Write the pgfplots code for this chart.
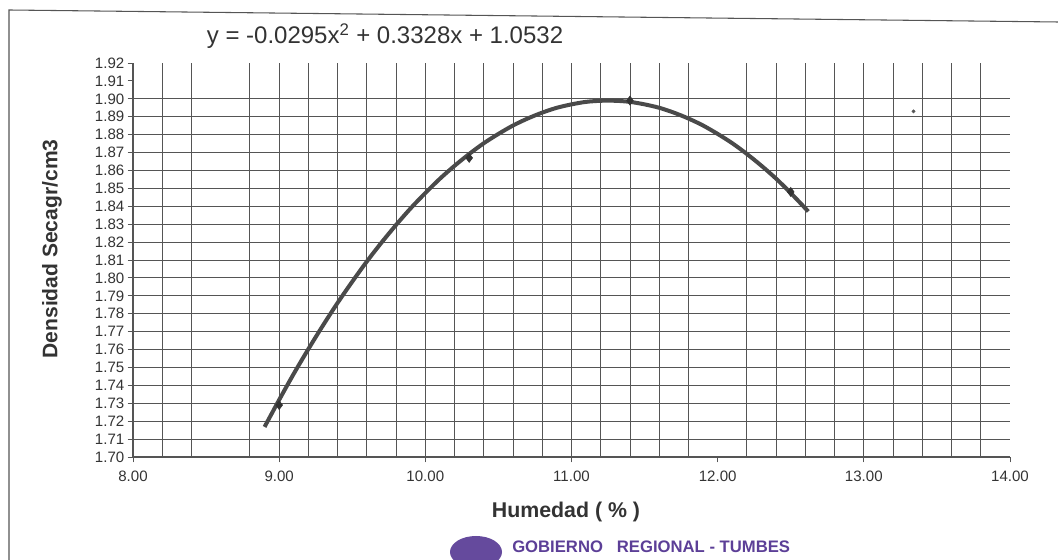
\documentclass[border=0pt]{standalone}
\usepackage{pgfplots}
\pgfplotsset{compat=1.18}
\usepackage{fontspec}
\setmainfont{Liberation Sans}
\definecolor{ink}{HTML}{333333}
\definecolor{curve}{HTML}{4A4A4A}
\definecolor{gridc}{HTML}{555555}
\definecolor{stamp}{HTML}{4A2A8C}
\begin{document}
\begin{tikzpicture}[x=0.75pt,y=0.75pt]
\path[use as bounding box] (0,0) rectangle (1058,560);
\begin{axis}[
  at={(99.75pt,77.25pt)}, anchor=south west,
  scale only axis, width=657.75pt, height=295.5pt,
  xmin=8, xmax=14, ymin=1.70, ymax=1.92,
  axis x line=bottom, axis y line=left,
  axis line style={-, line width=0.8pt, color=gridc},
  xtick={8,9,10,11,12,13,14},
  ytick={1.70,1.71,1.72,1.73,1.74,1.75,1.76,1.77,1.78,1.79,1.80,1.81,1.82,1.83,1.84,1.85,1.86,1.87,1.88,1.89,1.90,1.91,1.92},
  minor xtick={8.2,8.4,8.8,9,9.2,9.4,9.6,9.8,10,10.2,10.4,10.6,10.8,11,11.2,11.4,11.6,11.8,12.2,12.4,12.6,12.8,13,13.2,13.4,13.6,13.8},
  minor ytick={1.71,1.72,1.73,1.74,1.75,1.76,1.77,1.78,1.79,1.80,1.81,1.82,1.83,1.84,1.85,1.86,1.87,1.88,1.89,1.90},
  grid=minor,
  minor grid style={gridc, line width=0.65pt},
  minor tick length=0pt,
  major tick length=4pt,
  tick align=outside,
  tick style={gridc, line width=0.65pt},
  /pgf/number format/fixed,
  /pgf/number format/fixed zerofill,
  /pgf/number format/precision=2,
  /pgf/number format/assume math mode=true,
  x tick label style={yshift=-3pt},
  y tick label style={xshift=1pt},
  ticklabel style={font=\fontsize{11.3}{12}\selectfont, text=ink},
  clip=false,
]
\addplot[curve, line width=3pt, smooth, no marks] coordinates {
(8.9,1.7168) (9.0,1.7319) (9.1,1.7465) (9.2,1.7603) (9.3,1.7735) (9.4,1.7861)
(9.5,1.7979) (9.6,1.8092) (9.7,1.8197) (9.8,1.8296) (9.9,1.8389) (10.0,1.8474)
(10.1,1.8554) (10.2,1.8626) (10.3,1.8692) (10.4,1.8752) (10.5,1.8804) (10.6,1.8851)
(10.7,1.8890) (10.8,1.8923) (10.9,1.8950) (11.0,1.8969) (11.1,1.8983) (11.2,1.8989)
(11.3,1.8989) (11.4,1.8983) (11.5,1.8969) (11.6,1.8950) (11.7,1.8923) (11.8,1.8890)
(11.9,1.8851) (12.0,1.8804) (12.1,1.8752) (12.2,1.8692) (12.3,1.8626) (12.4,1.8554)
(12.5,1.8474) (12.62,1.8371)};
\addplot[only marks, mark=diamond*, mark size=3.4pt, color=ink] coordinates {
(9.0,1.729) (10.3,1.867) (11.4,1.899) (12.5,1.848)};
\addplot[only marks, mark=*, mark size=1.2pt, color=gridc] coordinates {(13.34,1.893)};
\end{axis}
% frame of the scanned sheet
\draw[gridc, line width=0.8pt] (9,0) -- (9,550) -- (1058,538);
% equation
\node[anchor=center, text=ink, font=\fontsize{18}{21}\selectfont] at (385,524)
  {y = -0.0295x\textsuperscript{2} + 0.3328x + 1.0532};
% axis titles
\node[rotate=90, anchor=center, text=ink, font=\bfseries\fontsize{15.8}{18}\selectfont] at (52,311)
  {Densidad Secagr/cm3};
\node[anchor=center, text=ink, font=\bfseries\fontsize{16}{18}\selectfont] at (566,48)
  {Humedad ( \% )};
% stamp at the foot
\begin{scope}
\clip (0,0) rectangle (1058,560);
\fill[stamp!85] (476,8) ellipse (26 and 16);
\node[anchor=west, text=stamp!90, font=\bfseries\fontsize{12.5}{14}\selectfont, inner sep=0pt] at (512,13)
  {GOBIERNO \ \ REGIONAL - TUMBES};
\end{scope}
\end{tikzpicture}
\end{document}
